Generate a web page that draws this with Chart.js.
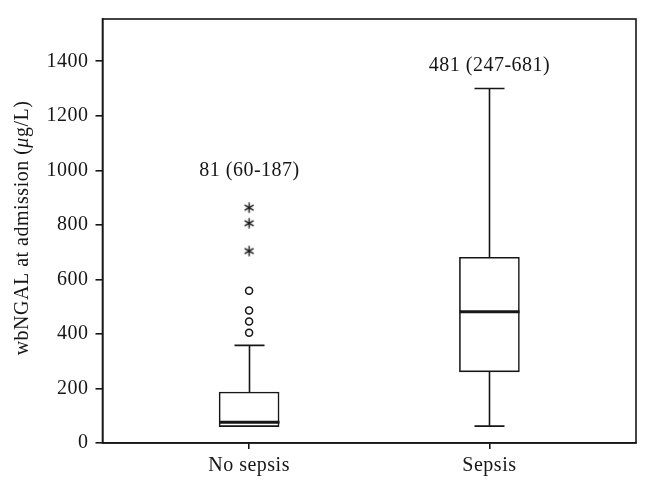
<!DOCTYPE html>
<html>
<head>
<meta charset="utf-8">
<title>wbNGAL box plot</title>
<script src="https://cdn.jsdelivr.net/npm/chart.js@4/dist/chart.umd.min.js"></script>
<style>
html,body{margin:0;padding:0;background:#fff}
#wrap{width:652px;height:493px}
</style>
</head>
<body>
<div id="wrap"><canvas id="boxChart"></canvas></div>
<script>
/* wbNGAL at admission, box plot by group */
const groups=['No sepsis','Sepsis'];
const xPos=[1,2];
const q1=[60,261];
const med=[76,481];
const q3=[187,681];
const whiskLo=[60,62];
const whiskHi=[358,1300];
const outliers=[[404,446,486,558],[]];   // circles
const extremes=[[704,806,863],[]];       // asterisks
const boxLabels=['81 (60-187)','481 (247-681)'];
const labelAt=[1000,1385];
const yTicks=[0,200,400,600,800,1000,1200,1400];

const INK='#161616';
const LW=1.6;
const FAMILY='"Liberation Serif","Times New Roman",serif';
const FONT={family:FAMILY,size:20};
const SPACING='0.5px';

// 6-spoke asterisk used as point style
function asterisk(){
  const c=document.createElement('canvas');c.width=c.height=13;
  const g=c.getContext('2d');g.strokeStyle=INK;g.lineWidth=1.4;g.translate(6.5,6.5);
  for(let k=0;k<3;k++){
    const a=Math.PI/2+k*Math.PI/3;
    g.beginPath();g.moveTo(Math.cos(a)*5.2,Math.sin(a)*5.2);g.lineTo(-Math.cos(a)*5.2,-Math.sin(a)*5.2);g.stroke();
  }
  return c;
}

const pts=list=>list.flatMap((vals,i)=>vals.map(v=>({x:xPos[i],y:v})));

const boxPlot={
  id:'boxPlot',
  beforeUpdate(c){c.ctx.letterSpacing=SPACING;},
  beforeDraw(c){c.ctx.letterSpacing=SPACING;},
  afterDatasetsDraw(c){
    const {ctx,scales:{x,y}}=c;
    ctx.save();
    ctx.strokeStyle=INK;ctx.lineCap='butt';
    xPos.forEach((xv,i)=>{
      const px=Math.round(x.getPixelForValue(xv))+0.5;
      ctx.lineWidth=LW;
      // whiskers
      ctx.beginPath();
      ctx.moveTo(px,y.getPixelForValue(q3[i]));ctx.lineTo(px,y.getPixelForValue(whiskHi[i]));
      ctx.moveTo(px-15,y.getPixelForValue(whiskHi[i]));ctx.lineTo(px+15,y.getPixelForValue(whiskHi[i]));
      if(whiskLo[i]<q1[i]){
        ctx.moveTo(px,y.getPixelForValue(q1[i]));ctx.lineTo(px,y.getPixelForValue(whiskLo[i]));
        ctx.moveTo(px-15,y.getPixelForValue(whiskLo[i]));ctx.lineTo(px+15,y.getPixelForValue(whiskLo[i]));
      }
      ctx.stroke();
      // median
      ctx.lineWidth=3;
      ctx.beginPath();
      ctx.moveTo(px-30,y.getPixelForValue(med[i]));ctx.lineTo(px+30,y.getPixelForValue(med[i]));
      ctx.stroke();
      // summary text
      ctx.fillStyle=INK;ctx.font='20px '+FAMILY;ctx.textAlign='center';ctx.textBaseline='middle';
      ctx.fillText(boxLabels[i],px,y.getPixelForValue(labelAt[i]));
    });
    ctx.restore();
  },
  afterDraw(c){
    const {ctx,chartArea:a}=c;
    ctx.save();
    ctx.strokeStyle=INK;ctx.lineWidth=LW;
    ctx.strokeRect(a.left,a.top,a.right-a.left,a.bottom-a.top);
    // y title with italic mu
    const parts=[['wbNGAL at admission (','20px '+FAMILY],['\u03bc','italic 20px '+FAMILY],['g/L)','20px '+FAMILY]];
    ctx.fillStyle=INK;ctx.textBaseline='middle';ctx.textAlign='left';
    let total=0;
    parts.forEach(p=>{ctx.font=p[1];total+=ctx.measureText(p[0]).width;});
    ctx.translate(23,(a.top+a.bottom)/2-3);ctx.rotate(-Math.PI/2);
    let pos=-total/2;
    parts.forEach(p=>{ctx.font=p[1];ctx.fillText(p[0],pos,0);pos+=ctx.measureText(p[0]).width;});
    ctx.restore();
  }
};

new Chart(document.getElementById('boxChart'),{
  type:'bar',
  data:{datasets:[
    {type:'bar',data:xPos.map((xv,i)=>({x:xv,y:[q1[i],q3[i]]})),backgroundColor:'#fff',borderColor:INK,borderWidth:LW,borderSkipped:false,barThickness:60},
    {type:'scatter',data:pts(outliers),pointStyle:'circle',pointRadius:3.5,pointBorderWidth:1.5,pointBorderColor:INK,pointBackgroundColor:'#fff'},
    {type:'scatter',data:pts(extremes),pointStyle:asterisk(),pointRadius:6}
  ]},
  options:{
    responsive:true,maintainAspectRatio:false,animation:false,events:[],
    layout:{padding:{top:14,right:16,left:0,bottom:0}},
    plugins:{legend:{display:false},tooltip:{enabled:false}},
    scales:{
      x:{type:'linear',min:0.39,max:2.61,offset:false,
        afterBuildTicks:s=>{s.ticks=xPos.map(v=>({value:v}));},
        afterFit:s=>{s.height=50;},
        ticks:{callback:v=>groups[xPos.indexOf(v)],color:INK,font:FONT,padding:5,maxRotation:0,autoSkip:false},
        grid:{offset:false,drawOnChartArea:false,tickLength:6,color:INK,lineWidth:LW},
        border:{color:INK,width:LW}},
      y:{min:0,max:1555,
        afterBuildTicks:s=>{s.ticks=yTicks.map(v=>({value:v}));},
        afterFit:s=>{s.width=102.5;},
        ticks:{callback:v=>String(v),color:INK,font:FONT,padding:7},
        grid:{drawOnChartArea:false,tickLength:7,color:INK,lineWidth:LW},
        border:{color:INK,width:LW}}
    }
  },
  plugins:[boxPlot]
});
</script>
</body>
</html>
